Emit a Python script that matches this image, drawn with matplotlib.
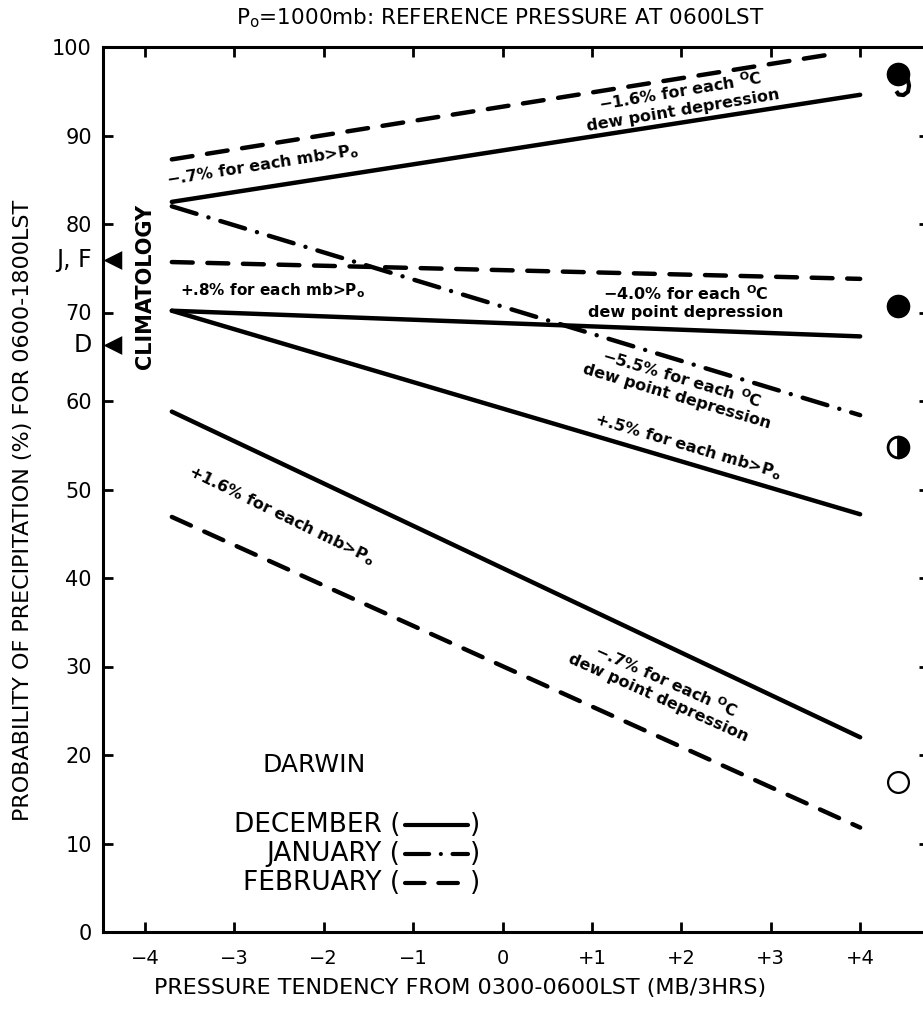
import matplotlib
matplotlib.use('Agg')
from matplotlib import pyplot as plt
from matplotlib.path import Path

plt.rcParams['font.family'] = ['DejaVu Sans']

# pressure tendency (mb/3hrs) at both ends of each line
x_ends = [-3.7, 4.0]
x_feb_top = [-3.7, 3.63]

# probability of precipitation (%) at both ends
dec_top = [82.5, 94.6]
dec_mid = [70.2, 67.3]
dec_slope = [70.2, 47.2]
dec_low = [58.8, 22.0]
jan_line = [82.0, 58.4]
feb_top = [87.3, 99.1]
feb_mid = [75.7, 73.8]
feb_low = [46.9, 11.8]

# climatology marks on the left axis
clim_labels = ['J, F', 'D']
clim_values = [75.9, 66.3]

# weather symbols at the right
sym_x = 4.42
sym_top = 97.0
sym_filled = 70.7
sym_half = 54.8
sym_open = 16.9

xticks = [-4, -3, -2, -1, 0, 1, 2, 3, 4]
xtick_labels = ['\u22124', '\u22123', '\u22122', '\u22121', '0', '+1', '+2', '+3', '+4']
yticks = [0, 10, 20, 30, 40, 50, 60, 70, 80, 90, 100]

months = ['DECEMBER (', 'JANUARY (', 'FEBRUARY (']

lw = 3.2
solid = dict(color='black', lw=lw, solid_capstyle='round')
dashed = dict(color='black', lw=lw, linestyle=(0, (4.7, 3.3)), dash_capstyle='round')
dashdot = dict(color='black', lw=lw, linestyle=(0, (5.8, 2.8, 0.01, 2.8)), dash_capstyle='round')

fig = plt.figure(figsize=(9.23, 10.09), dpi=100)
ax = fig.add_axes([103 / 923, 77 / 1009, 826 / 923, 885 / 1009])
ax.set_xlim(-4.47, 4.77)
ax.set_ylim(0, 100)

for yy in [dec_top, dec_mid, dec_slope, dec_low]:
    ax.plot(x_ends, yy, **solid)
ax.plot(x_ends, jan_line, **dashdot)
ax.plot(x_feb_top, feb_top, **dashed)
ax.plot(x_ends, feb_mid, **dashed)
ax.plot(x_ends, feb_low, **dashed)

# climatology triangles
tri = Path([(0, 0), (1, 0.5), (1, -0.5), (0, 0)])
ytr = ax.get_yaxis_transform()
for lab, v in zip(clim_labels, clim_values):
    ax.plot([0], [v], marker=tri, ms=27, color='black', mew=0, transform=ytr, clip_on=False)
    ax.text(-0.014, v, lab, transform=ytr, ha='right', va='center', fontsize=17)

ax.text(-4.0, 72.9, 'CLIMATOLOGY', rotation=90, ha='center', va='center', fontsize=15,
        fontweight='bold')

# symbols
hook = Path([(0.8, -0.3), (0.95, -1.0), (0.85, -1.55), (0.45, -1.85), (0.0, -1.8),
             (-0.2, -1.5)])
ax.plot([sym_x], [sym_top], 'o', ms=16, color='black', clip_on=False)
ax.plot([sym_x], [sym_top], marker=hook, ms=29.6, mfc='none', mec='black', mew=3,
        ls='none', clip_on=False)
ax.plot([sym_x], [sym_filled], 'o', ms=16, color='black')
ax.plot([sym_x], [sym_half], 'o', ms=15, mfc='black', mfcalt='white', fillstyle='right',
        mec='black', mew=2)
ax.plot([sym_x], [sym_open], 'o', ms=15, mfc='white', mec='black', mew=1.6)

# annotations along the lines
tk = dict(fontsize=11.5, fontweight='bold', ha='center', va='center', multialignment='center')
ax.text(-2.69, 86.6, '\u2212.7% for each mb>P$_{\\bf o}$', rotation=9, **tk)
ax.text(2.0, 94.0, '\u22121.6% for each $^{\\bf O}$C\ndew point depression', rotation=9.5, **tk)
ax.text(-3.61, 72.5, '+.8% for each mb>P$_{\\bf o}$', fontsize=11, fontweight='bold',
        ha='left', va='center')
ax.text(2.05, 71.2, '\u22124.0% for each $^{\\bf O}$C\ndew point depression', **tk)
ax.text(1.98, 61.6, '\u22125.5% for each $^{\\bf O}$C\ndew point depression', rotation=-16.5, **tk)
ax.text(2.07, 54.8, '+.5% for each mb>P$_{\\bf o}$', rotation=-16.5, **tk)
ax.text(-2.47, 47.0, '+1.6% for each mb>P$_{\\bf o}$', rotation=-26, **tk)
ax.text(1.79, 27.5, '\u2212.7% for each $^{\\bf O}$C\ndew point depression', rotation=-24, **tk)

# station name and key
ax.text((314 - 103) / 826, (932 - 765) / 885, 'DARWIN', transform=ax.transAxes,
        ha='center', va='center', fontsize=18)
rows = [825, 854, 883]
styles = [solid, dashdot, dashed]
for name, py, st in zip(months, rows, styles):
    yy = (932 - py) / 885
    ax.text((400 - 103) / 826, yy, name, transform=ax.transAxes, ha='right', va='center', fontsize=19)
    ax.plot([(405 - 103) / 826, (468 - 103) / 826], [yy, yy], transform=ax.transAxes,
            **dict(st, lw=3.0))
    ax.text((470 - 103) / 826, yy, ')', transform=ax.transAxes, ha='left', va='center', fontsize=19)

# axes styling
for s in ax.spines.values():
    s.set_linewidth(2.2)
ax.set_xticks(xticks)
ax.set_xticklabels(xtick_labels)
ax.set_yticks(yticks)
ax.tick_params(axis='x', direction='in', length=7, width=2, top=True, bottom=True, pad=12,
               labelsize=14)
ax.tick_params(axis='y', direction='in', length=7, width=2, left=True, right=True, pad=8,
               labelsize=15)

ax.set_xlabel('PRESSURE TENDENCY FROM 0300-0600LST (MB/3HRS)', fontsize=16)
ax.xaxis.set_label_coords((460 - 103) / 826, (932 - 978) / 885)
ax.set_ylabel('PROBABILITY OF PRECIPITATION (%) FOR 0600-1800LST', fontsize=16)
ax.yaxis.set_label_coords((33 - 103) / 826, (932 - 510) / 885)

fig.text(500 / 923, 1 - 18 / 1009, 'P$_{\\rm o}$=1000mb: REFERENCE PRESSURE AT 0600LST',
         ha='center', va='center', fontsize=15.5)

fig.savefig('out.png', dpi=100)
